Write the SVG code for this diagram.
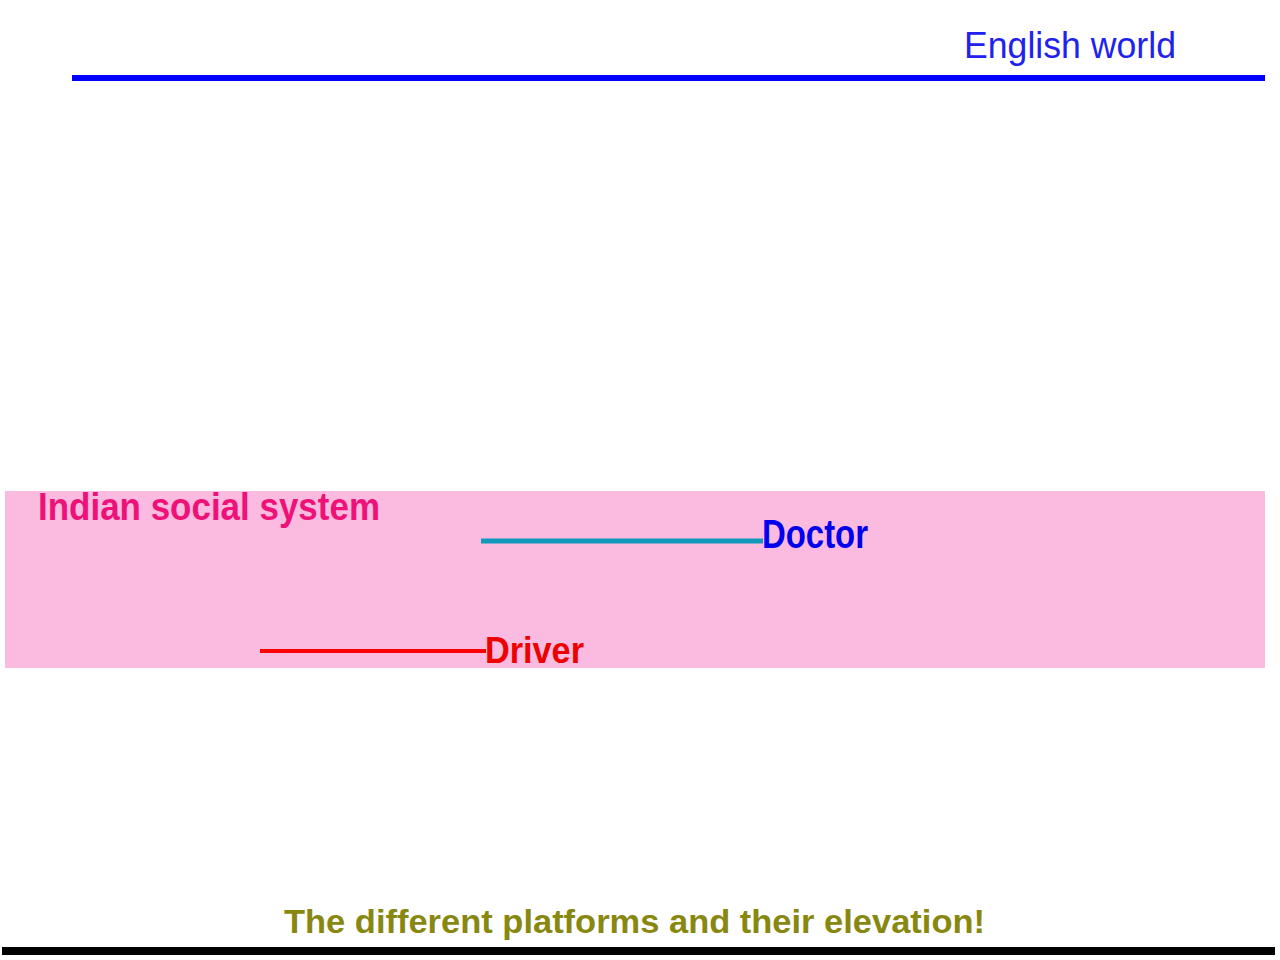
<svg xmlns="http://www.w3.org/2000/svg" width="1280" height="960" viewBox="0 0 1280 960">
<style>
.lbl{font-family:"Liberation Sans",Arial,sans-serif;font-weight:bold}
</style>
<rect width="1280" height="960" fill="#ffffff"/>
<g id="english-world">
<line x1="72" y1="78" x2="1265" y2="78" stroke="#0000ff" stroke-width="6"/>
<text x="964" y="58" font-family="Liberation Sans, Arial, sans-serif" font-size="37" fill="#2222ee" textLength="212" lengthAdjust="spacingAndGlyphs">English world</text>
</g>
<g id="indian-social-system">
<rect x="5" y="491" width="1260" height="177" fill="#fbbbe0"/>
<text class="lbl" x="38" y="520" font-size="38" fill="#ee1177" textLength="342" lengthAdjust="spacingAndGlyphs">Indian social system</text>
</g>
<g id="connectors">
<line x1="481" y1="541" x2="763" y2="541" stroke="#1199bb" stroke-width="5"/>
<line x1="260" y1="651" x2="486" y2="651" stroke="#ff0000" stroke-width="4"/>
</g>
<g id="doctor">
<text class="lbl" x="762" y="548" font-size="41" fill="#0000ee" textLength="106" lengthAdjust="spacingAndGlyphs">Doctor</text>
</g>
<g id="driver">
<text class="lbl" x="485" y="663" font-size="37" fill="#ee0000" textLength="99" lengthAdjust="spacingAndGlyphs">Driver</text>
</g>
<g id="caption">
<text class="lbl" x="284" y="933" font-size="34" fill="#888811" textLength="701" lengthAdjust="spacingAndGlyphs">The different platforms and their elevation!</text>
<line x1="2" y1="951" x2="1275" y2="951" stroke="#000000" stroke-width="8"/>
</g>
</svg>
